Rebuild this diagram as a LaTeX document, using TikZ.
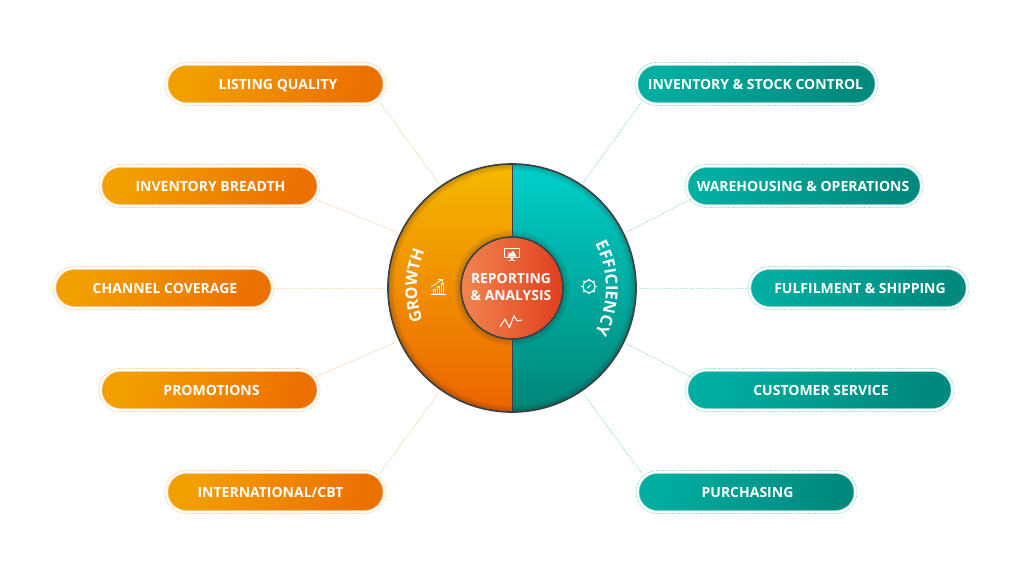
\documentclass[tikz,border=0pt]{standalone}
\usepackage{fontspec}
\setmainfont{Open Sans}
\usetikzlibrary{backgrounds,decorations.text,calc}
\definecolor{oL}{HTML}{F2A000}
\definecolor{oR}{HTML}{EC7000}
\definecolor{tL}{HTML}{00AEA1}
\definecolor{tR}{HTML}{00897D}
\definecolor{oDot}{HTML}{F8C88E}
\definecolor{tDot}{HTML}{8CD6D6}
\definecolor{rimc}{HTML}{3D4044}
\definecolor{corel}{HTML}{F28550}
\definecolor{corer}{HTML}{DF3F1E}
\definecolor{Ftop}{HTML}{F5B800}
\definecolor{Fbot}{HTML}{EB6400}
\definecolor{Ttop}{HTML}{00D0CA}
\definecolor{Tbot}{HTML}{008577}
\tikzset{
  x=1pt,y=-1pt,
  pillbase/.style={rectangle,rounded corners=18.5pt,minimum height=37pt,inner sep=0pt,line width=.5pt},
  orangepill/.style={pillbase,draw=oDot,left color=oL,right color=oR,shading angle=70},
  tealpill/.style={pillbase,draw=tDot,left color=tL,right color=tR,shading angle=70},
  halobase/.style={rectangle,rounded corners=21.5pt,minimum height=43pt,inner sep=0pt,line width=.8pt,dash pattern=on .8pt off .9pt},
  orangehalo/.style={halobase,draw=oDot},
  tealhalo/.style={halobase,draw=tDot},
  pilltext/.style={text=white,anchor=base,font=\bfseries\fontsize{14}{15}\selectfont,inner sep=0pt},
  orangelink/.style={draw=oDot,line width=.8pt,dash pattern=on .8pt off 1pt,shorten >=3pt},
  teallink/.style={draw=tDot,line width=.8pt,dash pattern=on .8pt off 1pt,shorten >=3pt},
  levellink/.style={draw opacity=.6},
  hubnode/.style={circle,minimum size=248pt,inner sep=0pt},
  corenode/.style={circle,minimum size=102pt,inner sep=0pt,draw=rimc,line width=1.6pt,left color=corel,right color=corer},
  coretext/.style={text=white,align=center,font=\bfseries\fontsize{13.9}{17}\selectfont,inner sep=0pt},
  iconline/.style={draw=white,line width=.9pt,line join=round,line cap=round},
}
\newcommand{\pill}[7]{% name, kind, x1, x2, y, text x, text
  \node[#2halo,minimum width=#4-#3+6,anchor=center] (#1h) at ({(#3+#4)/2},#5) {};
  \node[#2pill,minimum width=#4-#3,anchor=center] (#1) at ({(#3+#4)/2},#5) {};
  \node[pilltext] (#1t) at (#6,#5+5) {#7};
}
\begin{document}
\begin{tikzpicture}
\useasboundingbox (0,0) rectangle (1024,576);

% hub
\node[hubnode] (hub) at (512,288) {};
\begin{scope}
  \clip (512,288) circle (124);
  \shade[top color=Ftop,bottom color=Fbot] (388,164) rectangle (512,412);
  \shade[top color=Ttop,bottom color=Tbot] (512,164) rectangle (636,412);
  \foreach \w in {3,5,7,9,11,13}{\draw[black,opacity=.03,line width=\w pt] (512,288) circle (124);}
  \foreach \w in {2,4,6,8,10,12}{\draw[black,opacity=.028,line width=\w pt] (512,288) circle (52);}
\end{scope}
\draw[rimc,line width=.9pt] (hub.north) -- (hub.south);
\draw[rimc,line width=1.7pt] (512,288) circle (124);

% core
\node[corenode] (core) at (512,288) {};
\node[coretext] (coret) at (511,287) {REPORTING\\\& ANALYSIS};

% pills
\pill{a}{orange}{168}{383}{84}{278}{LISTING QUALITY}
\pill{b}{orange}{102}{317}{186}{210.5}{INVENTORY BREADTH}
\pill{c}{orange}{56}{271}{288}{165}{CHANNEL COVERAGE}
\pill{d}{orange}{102}{317}{390}{211.5}{PROMOTIONS}
\pill{e}{orange}{168}{383}{492}{270.5}{INTERNATIONAL/CBT}
\pill{f}{teal}{638}{875}{84}{755.5}{INVENTORY \& STOCK CONTROL}
\pill{g}{teal}{688}{920}{186}{803}{WAREHOUSING \& OPERATIONS}
\pill{i}{teal}{751}{966}{288}{860}{FULFILMENT \& SHIPPING}
\pill{j}{teal}{688}{951}{390}{821}{CUSTOMER SERVICE}
\pill{k}{teal}{639}{854}{492}{747.5}{PURCHASING}

% connectors
\begin{pgfonlayer}{background}
\draw[orangelink] ([shift={(-3,0)}]a.south east) -- (hub.125);
\draw[orangelink] ([shift={(-8,-8)}]b.south east) -- (hub.154.4);
\draw[orangelink,levellink] (c.east) -- (hub.180);
\draw[orangelink] ([shift={(-8,8)}]d.north east) -- (hub.205.8);
\draw[orangelink] ([shift={(-3,0)}]e.north east) -- (hub.235);
\draw[teallink] ([shift={(3,0)}]f.south west) -- (hub.56);
\draw[teallink] ([shift={(8,-8)}]g.south west) -- (hub.26);
\draw[teallink,levellink] (i.west) -- (hub.0);
\draw[teallink] ([shift={(8,8)}]j.north west) -- (hub.-26.8);
\draw[teallink] ([shift={(3,0)}]k.north west) -- (hub.-56);
\end{pgfonlayer}

% curved labels
\begin{scope}[shift={(512,288)},x=1pt,y=1pt]
  \path[decorate,decoration={text along path,text align=center,
     text={|\bfseries\fontsize{16}{16}\selectfont\color{white}|GROWTH}}]
     (205:95) arc[start angle=205,end angle=152,radius=95];
  \path[decorate,decoration={text along path,text align=center,
     text={|\bfseries\fontsize{16.5}{16}\selectfont\color{white}|EFFICIENCY}}]
     (40:94) arc[start angle=40,end angle=-40,radius=94];
\end{scope}

% bar chart icon
\draw[iconline] (431,294.5) -- (446,294.5);
\draw[iconline,line width=.8pt] (433.5,294) -- (433.5,289) -- (435,289) -- (435,294);
\draw[iconline,line width=.8pt] (437.5,294) -- (437.5,286.5) -- (439,286.5) -- (439,294);
\draw[iconline,line width=.8pt] (441.5,294) -- (441.5,283) -- (443.5,283) -- (443.5,294);
\draw[iconline,line width=.8pt] (431.5,286.5) -- (437,283) -- (442,279.5);
\draw[iconline,line width=.8pt] (438.5,279) -- (442.5,279) -- (442.5,282);

% gear icon
\draw[iconline,line width=1.1pt] (589,286.5) circle (6);
\foreach \t in {0,45,...,315}{\draw[white,line width=1.6pt] (589,286.5) ++(\t:5.8) -- ++(\t:2);}
\draw[iconline,line width=.9pt] (587.5,288) -- (590.5,285);

% monitor icon
\draw[iconline] (504.5,248.5) rectangle (519.5,257.5);
\fill[white] (507.5,256.5) -- (509,252.5) -- (511,253.5) -- (512.5,250.5) -- (514.5,253) -- (516.5,256.5) -- cycle;
\draw[iconline,line width=1.1pt] (512,257.5) -- (512,260);
\draw[iconline] (509,260.3) -- (515,260.3);

% pulse icon
\draw[iconline,line width=1pt] (500,326.7) -- (505,319) -- (509.3,327.7) -- (514,315.7) -- (517.3,321) -- (521.7,320);
\end{tikzpicture}
\end{document}
